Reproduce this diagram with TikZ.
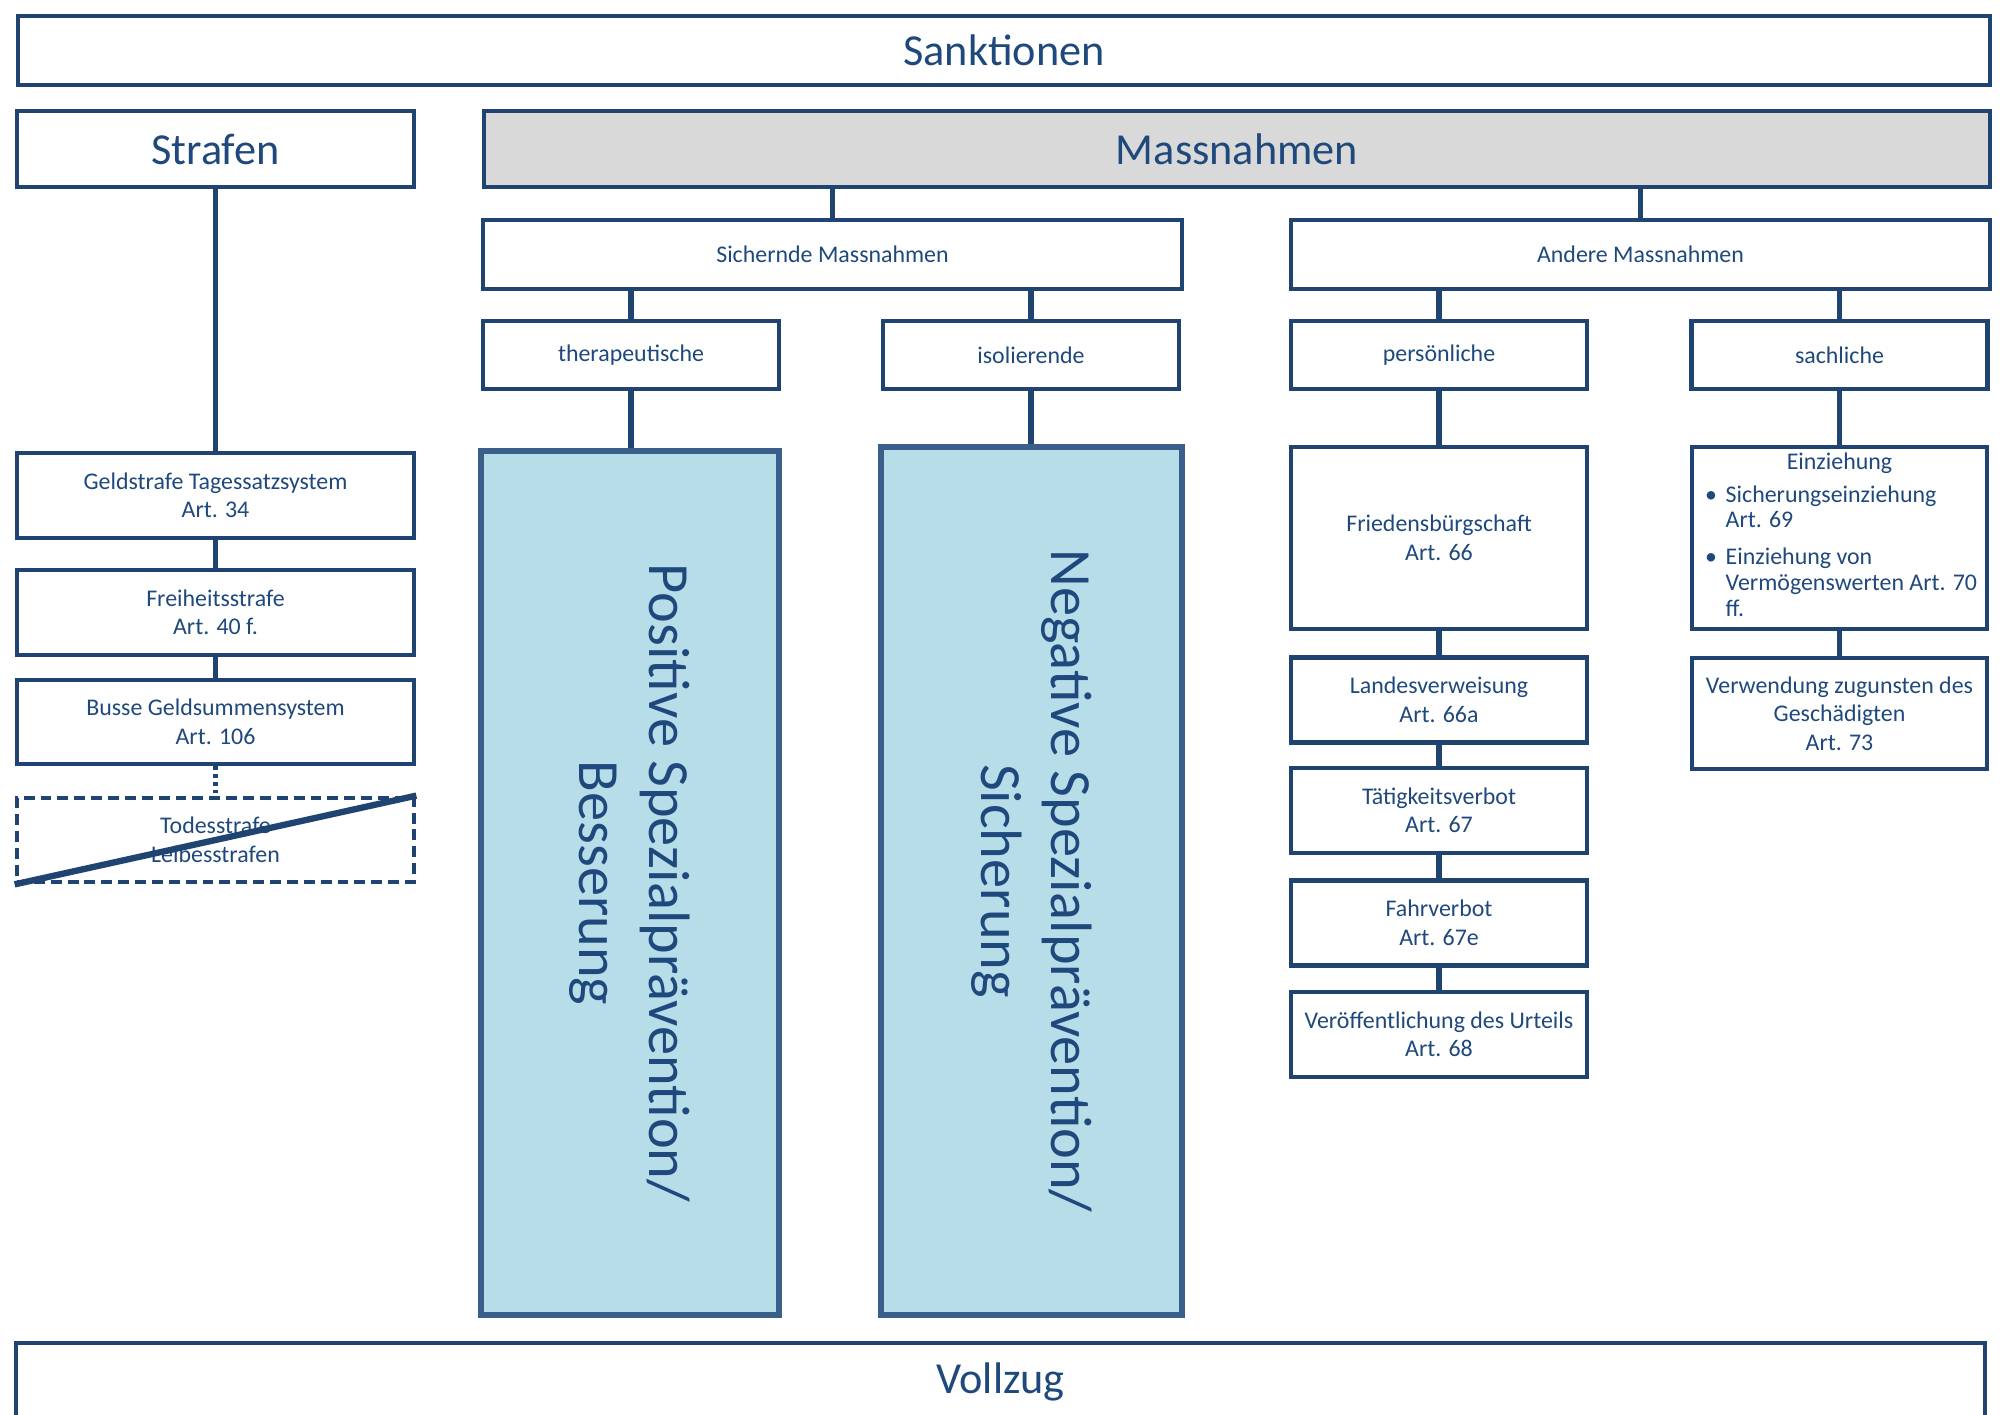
\documentclass[tikz,border=0pt]{standalone}
\usepackage{fontspec}
\setmainfont{Carlito}
\usepackage{xcolor}
\usepackage{tikz}
\usetikzlibrary{positioning}
\definecolor{cLine}{HTML}{1F4471}
\definecolor{cText}{HTML}{1F497D}
\definecolor{cPrev}{HTML}{B7DDE8}
\definecolor{cPrevLine}{HTML}{3A5F8B}
\definecolor{cGrey}{HTML}{D9D9D9}
\tikzset{
  san/box/.style    ={draw=cLine, line width=1.35pt, fill=white, text=cText,
                      inner sep=2pt, align=center,
                      font=\fontsize{6.8}{8.1}\selectfont},
  san/head/.style   ={san/box, font=\fontsize{12.6}{15}\selectfont},
  san/gone/.style   ={san/box, dash pattern=on 3.1pt off 1.7pt},
  san/prev/.style   ={draw=cPrevLine, line width=1.5pt, fill=cPrev},
  san/prevtext/.style={rotate=-90, text=cText, align=center, inner sep=0pt,
                      font=\fontsize{16.6}{19.9}\selectfont},
  san/txt/.style    ={text=cText, inner sep=0pt,
                      font=\fontsize{6.8}{8.1}\selectfont},
  san/link/.style   ={draw=cLine, line width=1.5pt},
  san/maybe/.style  ={san/link, dash pattern=on 1.1pt off 1.1pt}
}

\begin{document}
\begin{tikzpicture}
    \useasboundingbox (0,0) rectangle (20.11,-14.15);
    \def\colS{2.155}  % Strafen column
    \def\colP{14.39}  % persoenliche
    \def\colE{18.395} % sachliche

    % top level
    \node[san/head, minimum width=19.72cm, minimum height=0.69cm] (sankt) at (10.04,-0.505) {Sanktionen};
    \node[san/head, minimum width=3.97cm, minimum height=0.76cm] (strafen) at (\colS,-1.49) {Strafen};
    \node[san/head, fill=cGrey, minimum width=15.06cm, minimum height=0.76cm] (massn) at (12.37,-1.49) {Massnahmen};

    % Massnahmen subtree
    \node[san/box, minimum width=6.99cm, minimum height=0.69cm] (sich)   at (8.325,-2.545)  {Sichernde Massnahmen};
    \node[san/box, minimum width=6.99cm, minimum height=0.69cm] (andere) at (16.405,-2.545) {Andere Massnahmen};
    \node[san/box, minimum width=2.96cm, minimum height=0.68cm] (thera) at (6.31,-3.55)  {therapeutische};
    \node[san/box, minimum width=2.96cm, minimum height=0.68cm] (iso)   at (10.31,-3.55) {isolierende};
    \node[san/box, minimum width=2.96cm, minimum height=0.68cm] (pers)  at (\colP,-3.55) {persönliche};
    \node[san/box, minimum width=2.96cm, minimum height=0.68cm] (sach)  at (\colE,-3.55) {sachliche};

    % Spezialpraevention columns
    \node[san/prev, minimum width=2.98cm, minimum height=8.64cm] (blue1) at (6.30,-8.83) {};
    \node[san/prev, minimum width=3.01cm, minimum height=8.68cm] (blue2) at (10.315,-8.81) {};
    \node[san/prevtext] (blue1T) at (blue1.center) {Positive Spezialprävention/\\Besserung};
    \node[san/prevtext] (blue2T) at (blue2.center) {Negative Spezialprävention/\\Sicherung};

    % persoenliche
    \node[san/box, minimum width=2.96cm, minimum height=1.82cm] (fried) at (\colP,-5.38) {Friedensbürgschaft\\Art. 66};
    \foreach \n/\y/\t in {landes/7.00/{Landesverweisung\\Art. 66a},
                          taet/8.105/{Tätigkeitsverbot\\Art. 67},
                          fahr/9.23/{Fahrverbot\\Art. 67e},
                          veroef/10.345/{Veröffentlichung des Urteils\\Art. 68}} {
      \node[san/box, minimum width=2.96cm, minimum height=0.85cm] (\n) at (\colP,-\y) {\t};
    }

    % sachliche
    \node[san/box, minimum width=2.95cm, minimum height=1.82cm] (einz) at (\colE,-5.38) {};
    \node[san/txt] (einzT) at (\colE,-4.63) {Einziehung};
    \node[san/txt, anchor=base] (bulA) at (17.11,-5.03) {•};
    \node[san/txt, anchor=base west] (einzA1) at (17.25,-5.03) {Sicherungseinziehung};
    \node[san/txt, anchor=base west] (einzA2) at (17.25,-5.28) {Art. 69};
    \node[san/txt, anchor=base] (bulB) at (17.11,-5.65) {•};
    \node[san/txt, anchor=base west] (einzB1) at (17.25,-5.65) {Einziehung von};
    \node[san/txt, anchor=base west] (einzB2) at (17.25,-5.91) {Vermögenswerten Art. 70};
    \node[san/txt, anchor=base west] (einzB3) at (17.25,-6.17) {ff.};
    \node[san/box, minimum width=2.95cm, minimum height=1.11cm] (verw) at (\colE,-7.135) {Verwendung zugunsten des\\Geschädigten\\Art. 73};

    % Strafen
    \node[san/box, minimum width=3.97cm, minimum height=0.85cm] (geld)  at (\colS,-4.955) {Geldstrafe Tagessatzsystem\\Art. 34};
    \node[san/box, minimum width=3.97cm, minimum height=0.85cm] (frei)  at (\colS,-6.125) {Freiheitsstrafe\\Art. 40 f.};
    \node[san/box, minimum width=3.97cm, minimum height=0.84cm] (busse) at (\colS,-7.22)  {Busse Geldsummensystem\\Art. 106};
    \node[san/gone, minimum width=3.97cm, minimum height=0.84cm] (todes) at (\colS,-8.40) {Todesstrafe\\Leibesstrafen};
    \draw[cLine, line width=1.8pt] (todes.south west) -- (todes.north east);

    % bottom
    \node[san/head, minimum width=19.69cm, minimum height=0.78cm] (vollzug) at (10.005,-13.82) {\raisebox{1.4pt}{Vollzug}};

    % connectors
    \draw[san/link] (strafen.south) -- (strafen.south |- geld.north);
    \draw[san/link] (sich.north) -- (sich.north |- massn.south);
    \draw[san/link] (andere.north) -- (andere.north |- massn.south);
    \draw[san/link] (thera.north) -- (thera.north |- sich.south);
    \draw[san/link] (iso.north) -- (iso.north |- sich.south);
    \draw[san/link] (pers.north) -- (pers.north |- andere.south);
    \draw[san/link] (sach.north) -- (sach.north |- andere.south);
    \draw[san/link] (thera.south) -- (thera.south |- blue1.north);
    \draw[san/link] (iso.south) -- (iso.south |- blue2.north);
    \foreach \a/\b in {pers/fried, fried/landes, landes/taet, taet/fahr, fahr/veroef,
                       sach/einz, einz/verw, geld/frei, frei/busse} {
      \draw[san/link] (\a.south) -- (\b.north);
    }
    \draw[san/maybe] (busse.south) -- (todes.north);
\end{tikzpicture}
\end{document}
